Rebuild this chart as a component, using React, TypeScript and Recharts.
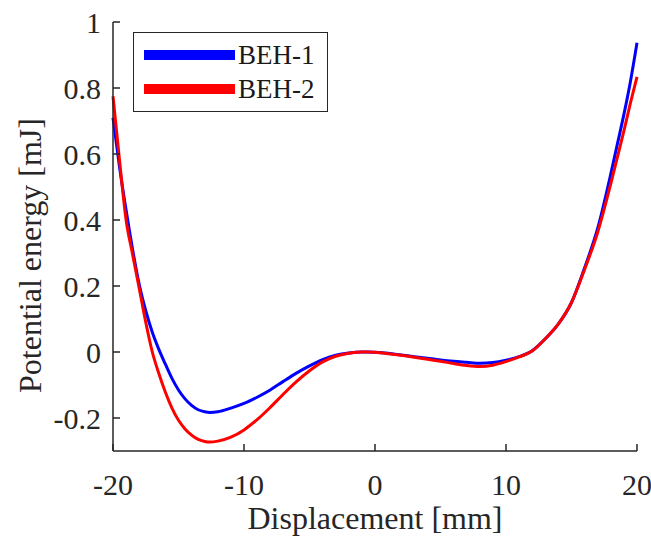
import React from "react";
import { LineChart, Line, XAxis, YAxis, Legend, Label } from "recharts";

const displacement = [-20, -19.5, -19, -18.5, -18, -17.5, -17, -16.5, -16, -15.5, -15, -14.5, -14, -13.5, -13, -12.6, -12, -11, -10, -9, -8, -7, -6, -5, -4, -3, -2, -1, -0.5, 0, 1, 2, 3, 4, 5, 6, 7, 8, 9, 10, 11, 12, 13, 14, 15, 16, 17, 18, 18.5, 19, 19.5, 20];

const beh1 = [0.71, 0.56, 0.43, 0.31, 0.205, 0.125, 0.06, 0.008, -0.037, -0.08, -0.115, -0.142, -0.162, -0.175, -0.181, -0.183, -0.181, -0.17, -0.156, -0.137, -0.115, -0.089, -0.064, -0.042, -0.023, -0.01, -0.003, 0, 0, -0.001, -0.004, -0.009, -0.014, -0.019, -0.024, -0.028, -0.031, -0.034, -0.032, -0.025, -0.014, 0.004, 0.04, 0.085, 0.15, 0.255, 0.375, 0.54, 0.63, 0.72, 0.82, 0.937];

const beh2 = [0.775, 0.58, 0.4, 0.295, 0.193, 0.09, 0.0, -0.065, -0.122, -0.17, -0.207, -0.233, -0.252, -0.265, -0.271, -0.273, -0.27, -0.258, -0.236, -0.205, -0.168, -0.128, -0.09, -0.057, -0.03, -0.013, -0.004, 0, 0, -0.001, -0.005, -0.01, -0.016, -0.022, -0.028, -0.035, -0.041, -0.044, -0.04, -0.029, -0.015, 0.003, 0.04, 0.085, 0.15, 0.25, 0.363, 0.51, 0.59, 0.67, 0.755, 0.834];

const seriesNames = ["BEH-1", "BEH-2"];
const seriesColors = ["#0000ff", "#ff0000"];
const xTicks = [-20, -10, 0, 10, 20];
const yTicks = [-0.2, 0, 0.2, 0.4, 0.6, 0.8, 1];
const xLabel = "Displacement [mm]";
const yLabel = "Potential energy [mJ]";

const data = displacement.map((x, i) => ({ x, beh1: beh1[i], beh2: beh2[i] }));

const FONT = '"Liberation Serif", "Times New Roman", Times, "DejaVu Serif", serif';
const AXIS = "#262626";

const LegendBox = (props: any) => {
  const payload = props.payload || [];
  return (
    <div
      style={{
        position: "relative",
        width: 195,
        height: 80,
        border: `1.5px solid ${AXIS}`,
        background: "#fff",
        boxSizing: "border-box",
      }}
    >
      {payload.map((p: any, i: number) => (
        <div
          key={i}
          style={{
            position: "absolute",
            left: 10,
            top: 6.5 + i * 34.6,
            height: 30,
            display: "flex",
            alignItems: "center",
          }}
        >
          <div style={{ width: 91, height: 10, background: p.color }} />
          <span
            style={{
              marginLeft: 3,
              fontFamily: FONT,
              fontSize: 27,
              lineHeight: "30px",
              color: "#1a1a1a",
            }}
          >
            {p.value}
          </span>
        </div>
      ))}
    </div>
  );
};

const tickStyle = { fill: "#262626", fontSize: 30, fontFamily: FONT, style: { fontFamily: FONT } };

export default function App() {
  return (
    <div style={{ position: "absolute", left: 0, top: 0, width: 651, height: 536, background: "#fff", fontFamily: FONT }}>
      <LineChart
        width={651}
        height={536}
        data={data}
        margin={{ top: 22, right: 14, bottom: 0, left: 0 }}
        style={{ fontFamily: FONT }}
      >
        <XAxis
          dataKey="x"
          type="number"
          domain={[-20, 20]}
          ticks={xTicks}
          height={85}
          stroke={AXIS}
          strokeWidth={1.5}
          tickSize={-7}
          tickMargin={30}
          tickLine={{ stroke: AXIS, strokeWidth: 1.5 }}
          tick={tickStyle}
          interval={0}
        >
          <Label
            value={xLabel}
            position="insideBottom"
            offset={7}
            style={{ fill: "#262626", fontSize: 32, fontFamily: FONT }}
          />
        </XAxis>
        <XAxis
          xAxisId="top"
          dataKey="x"
          type="number"
          orientation="top"
          domain={[-20, 20]}
          ticks={xTicks}
          height={0}
          stroke={AXIS}
          strokeWidth={1.5}
          tickSize={-7}
          tick={false}
          tickLine={{ stroke: AXIS, strokeWidth: 1.5 }}
          interval={0}
        />
        <YAxis
          type="number"
          domain={[-0.3, 1]}
          ticks={yTicks}
          width={113}
          stroke={AXIS}
          strokeWidth={1.5}
          tickSize={-7}
          tickMargin={19}
          tickLine={{ stroke: AXIS, strokeWidth: 1.5 }}
          tick={tickStyle}
          interval={0}
          allowDataOverflow
        >
          <Label
            content={(p: any) => {
              const vb = p.viewBox || { x: 0, y: 22, height: 429 };
              const cx = vb.x + 41;
              const cy = vb.y + vb.height / 2 + 19;
              return (
                <text
                  x={cx}
                  y={cy}
                  transform={`rotate(-90 ${cx} ${cy})`}
                  textAnchor="middle"
                  fontFamily={FONT}
                  style={{ fill: "#262626", fontSize: 32, fontFamily: FONT }}
                >
                  {yLabel}
                </text>
              );
            }}
          />
        </YAxis>
        <YAxis
          yAxisId="right"
          type="number"
          orientation="right"
          domain={[-0.3, 1]}
          ticks={yTicks}
          width={0}
          stroke={AXIS}
          strokeWidth={1.5}
          tickSize={-7}
          tick={false}
          tickLine={{ stroke: AXIS, strokeWidth: 1.5 }}
          interval={0}
        />
        <Legend
          layout="horizontal"
          verticalAlign="middle"
          align="center"
          wrapperStyle={{ left: 133, top: 32, width: 195, height: 80 }}
          content={LegendBox}
        />
        <Line
          type="monotone"
          dataKey="beh1"
          name={seriesNames[0]}
          stroke={seriesColors[0]}
          strokeWidth={3}
          dot={false}
          isAnimationActive={false}
        />
        <Line
          type="monotone"
          dataKey="beh2"
          name={seriesNames[1]}
          stroke={seriesColors[1]}
          strokeWidth={3}
          dot={false}
          isAnimationActive={false}
        />
      </LineChart>
    </div>
  );
}
